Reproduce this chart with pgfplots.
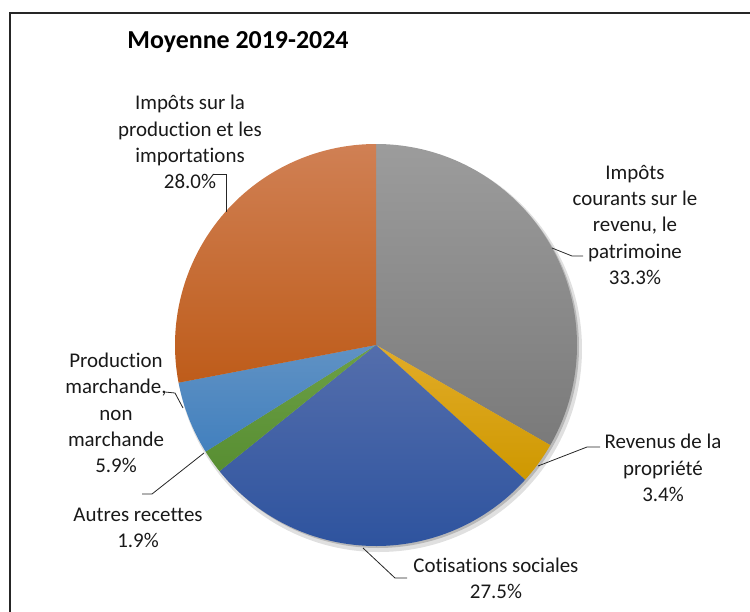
\documentclass[border=0pt]{standalone}
\usepackage{pgfplots}
\usepackage{pgfplotstable}
\pgfplotsset{compat=1.18}
\usepackage{fontspec}
\setmainfont{Carlito}[RawFeature={-liga;-clig;-calt;-dlig}]

\definecolor{grayT}{RGB}{156,156,156}
\definecolor{grayB}{RGB}{122,122,122}
\definecolor{goldT}{RGB}{226,172,40}
\definecolor{goldB}{RGB}{206,152,0}
\definecolor{blueT}{RGB}{84,110,172}
\definecolor{blueB}{RGB}{44,82,158}
\definecolor{greenT}{RGB}{108,160,70}
\definecolor{greenB}{RGB}{88,142,50}
\definecolor{lblueT}{RGB}{96,146,196}
\definecolor{lblueB}{RGB}{66,128,190}
\definecolor{orangeT}{RGB}{208,128,84}
\definecolor{orangeB}{RGB}{190,92,26}

\tikzset{
  lbl/.style={font=\fontsize{21}{26.3}\selectfont, align=center, text=black!90, inner sep=0pt},
  lead/.style={black!85, line width=0.8bp},
}

% shares in %, clockwise from 12 o'clock
\pgfplotstableread{
value top     bottom
33.3  grayT   grayB
3.4   goldT   goldB
27.5  blueT   blueB
1.9   greenT  greenB
5.9   lblueT  lblueB
28.0  orangeT orangeB
}\piedata

\begin{document}
\begin{tikzpicture}
\begin{axis}[
    width=750bp, height=612bp, scale only axis,
    xmin=0, xmax=750, ymin=0, ymax=612, y dir=reverse,
    hide axis, clip=false,
  ]
  \pgfplotsextra{
    % shadow
    \fill[black, opacity=0.12] (axis cs:379,349) circle[radius=203bp];
    \fill[black, opacity=0.18] (axis cs:378,347) circle[radius=201bp];
    \xdef\angA{90}
    \pgfplotstableforeachcolumnelement{value}\of\piedata\as\v{%
      \pgfplotstablegetelem{\pgfplotstablerow}{top}\of\piedata
      \let\ctop\pgfplotsretval
      \pgfplotstablegetelem{\pgfplotstablerow}{bottom}\of\piedata
      \let\cbot\pgfplotsretval
      \pgfmathsetmacro\angB{\angA-3.6*\v}
      \shade[top color=\ctop, bottom color=\cbot]
        (axis cs:376,345) -- ++(\angA:201bp)
        arc[start angle=\angA, end angle=\angB, radius=201bp] -- cycle;
      \xdef\angA{\angB}
    }
  }

  % leader lines
  \draw[lead] (axis cs:226,212) -- (axis cs:226,174) -- (axis cs:213,174);
  \draw[lead] (axis cs:552,248) -- (axis cs:572,256) -- (axis cs:583,256);
  \draw[lead] (axis cs:538,466) -- (axis cs:587,447) -- (axis cs:600,447);
  \draw[lead] (axis cs:363,548) -- (axis cs:395,578) -- (axis cs:407,578);
  \draw[lead] (axis cs:204,453) -- (axis cs:152,494) -- (axis cs:142,494);
  \draw[lead] (axis cs:183,408) -- (axis cs:175,393) -- (axis cs:165,392);

  % labels
  \node[lbl] at (axis cs:190,142) {Impôts sur la\\production et les\\importations\\28.0\%};
  \node[lbl] at (axis cs:635,225) {Impôts\\courants sur le\\revenu, le\\patrimoine\\33.3\%};
  \node[lbl] at (axis cs:663,468) {Revenus de la\\propriété\\3.4\%};
  \node[lbl] at (axis cs:496,578) {Cotisations sociales\\27.5\%};
  \node[lbl] at (axis cs:138,528) {Autres recettes\\1.9\%};
  \node[lbl] at (axis cs:116,413) {Production\\marchande,\\non\\marchande\\5.9\%};

  % title
  \node[font=\fontsize{26}{30}\selectfont\bfseries, inner sep=0pt] at (axis cs:238,42) {Moyenne 2019-2024};

  % chart frame (right and bottom edges fall outside the picture)
  \draw[black!85, line width=1.5bp] (axis cs:10,620) -- (axis cs:10,13) -- (axis cs:760,13);
\end{axis}
\pgfresetboundingbox
\useasboundingbox (0,0) rectangle (750bp,612bp);
\end{tikzpicture}
\end{document}
